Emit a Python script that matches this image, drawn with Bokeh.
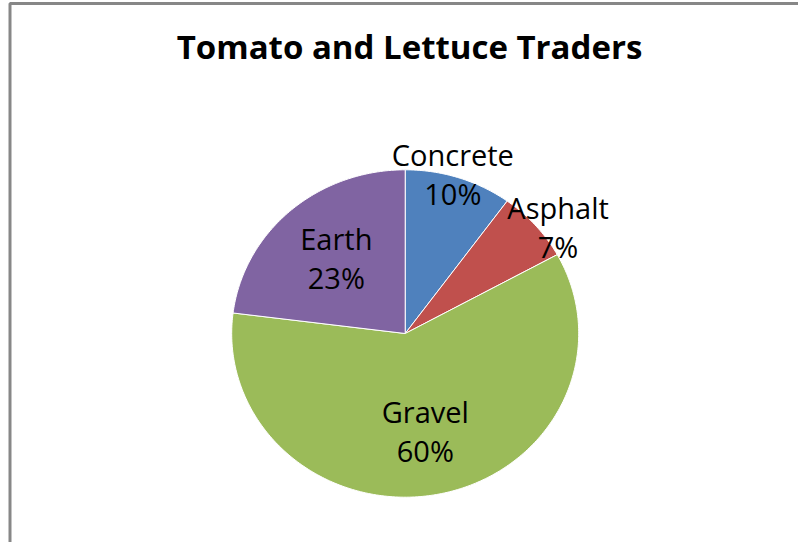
import numpy as np
from bokeh.plotting import figure
from bokeh.models import Range1d, ColumnDataSource
from bokeh.core.properties import value
from bokeh.embed import file_html
from bokeh.resources import INLINE

# ---- data ----
title = "Tomato and Lettuce Traders"
categories = ["Concrete", "Asphalt", "Gravel", "Earth"]
values = [10, 7, 60, 23]
colors = ["#4F81BD", "#C0504D", "#9BBB59", "#8064A2"]

# ---- layout (pixel space of the canvas, y up) ----
W, H = 798, 542
cx, cy = 404.7, 209.0        # pie centre
rx, ry = 173.5, 163.7        # pie radii
label_r = [1.0, 1.09, 0.62, 0.60]      # radial fraction of label block centre
label_nx = [-6, 11, 0, 0]              # pixel nudges (right +)
label_ny = [-13, 2, -11, -11]          # pixel nudges (down +)

p = figure(width=W, height=H, output_backend="svg", toolbar_location=None,
           x_range=Range1d(0, W), y_range=Range1d(0, H),
           x_axis_type=None, y_axis_type=None, min_border=0,
           outline_line_color=None, background_fill_color="white",
           border_fill_color="white")
p.grid.visible = False

total = float(sum(values))
fracs = [v / total for v in values]
starts = []
acc = 0.0
for f in fracs:
    starts.append(acc)
    acc += f

xs, ys = [], []
lx, ly = [], []
for i, (s, f) in enumerate(zip(starts, fracs)):
    a0 = np.pi / 2 - 2 * np.pi * s
    a1 = np.pi / 2 - 2 * np.pi * (s + f)
    th = np.linspace(a0, a1, max(8, int(400 * f)))
    xs.append([cx] + list(cx + rx * np.cos(th)) + [cx])
    ys.append([cy] + list(cy + ry * np.sin(th)) + [cy])
    am = (a0 + a1) / 2
    lx.append(cx + label_r[i] * rx * np.cos(am) + label_nx[i])
    ly.append(cy + label_r[i] * ry * np.sin(am) - label_ny[i])

src = ColumnDataSource(dict(xs=xs, ys=ys, color=colors, name=categories))
p.patches("xs", "ys", source=src, fill_color="color", line_color="white",
          line_width=1)

pct = [f"{round(f * 100)}%" for f in fracs]
lsrc = ColumnDataSource(dict(x=lx, y=ly, name=categories, pct=pct))
p.text("x", "y", text="name", source=lsrc, text_font=value("Open Sans"),
       text_font_size="29px", text_color="black", text_align="center",
       text_baseline="alphabetic", y_offset=-10.5)
p.text("x", "y", text="pct", source=lsrc, text_font=value("Open Sans"),
       text_font_size="29px", text_color="black", text_align="center",
       text_baseline="alphabetic", y_offset=28.5)

# title
p.text(x=[409], y=[H - 46], text=[title], text_font=value("Open Sans"),
       text_font_size="33px", text_font_style="bold", text_color="black",
       text_align="center", text_baseline="alphabetic")

# chart-area border (left and top visible)
p.line(x=[9.5, 9.5, W], y=[0, H - 3, H - 3], line_color="#878787",
       line_width=3)

open("out.html", "w").write(file_html(p, INLINE))
